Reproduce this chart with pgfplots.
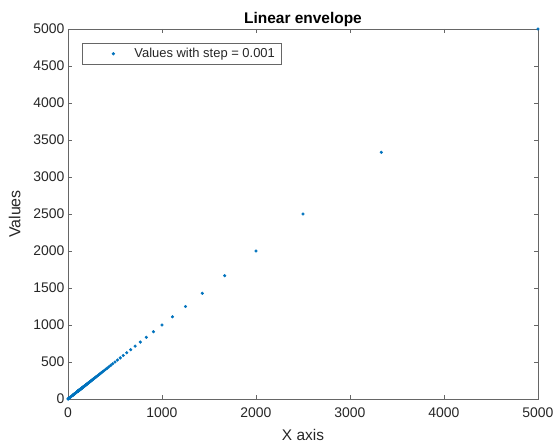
\documentclass[border=0pt]{standalone}
\usepackage{fontspec}
\setmainfont{Liberation Sans}
\usepackage{pgfplots}
\pgfplotsset{compat=1.18}
\definecolor{mblue}{rgb}{0,0.447,0.741}
\definecolor{axgray}{rgb}{0.40,0.40,0.40}
\definecolor{txt}{rgb}{0.15,0.15,0.15}
\begin{document}
\begin{tikzpicture}
\path[use as bounding box] (-68bp,-44bp) rectangle (487bp,399bp);
\begin{axis}[
  at={(0,0)}, anchor=origin,
  scale only axis,
  width=470bp, height=370bp,
  xmin=0, xmax=5000, ymin=0, ymax=5000,
  xtick={0,1000,2000,3000,4000,5000},
  ytick={0,500,1000,1500,2000,2500,3000,3500,4000,4500,5000},
  scaled ticks=false,
  /pgf/number format/assume math mode=true,
  /pgf/number format/set thousands separator={},
  tick align=inside,
  major tick length=4bp,
  axis line style={axgray, line width=0.6bp},
  every tick/.style={axgray, line width=0.6bp},
  tick label style={font=\fontsize{14}{15}\selectfont, text=txt},
  xticklabel style={yshift=-5bp},
  title={\bfseries Linear envelope},
  title style={font=\fontsize{15.5}{16}\selectfont, text=black, yshift=-7bp},
  xlabel={X axis},
  ylabel={Values},
  xlabel style={font=\fontsize{15.5}{16}\selectfont, text=txt, yshift=-5bp},
  ylabel style={font=\fontsize{16}{17}\selectfont, text=txt, yshift=6bp},
  legend style={at={(rel axis cs:0.03,0.962)}, anchor=north west,
    draw=axgray, line width=0.6bp, font=\fontsize{13}{14}\selectfont, text=txt,
    inner xsep=4bp, inner ysep=3bp},
  legend cell align=left,
  legend image code/.code={\path[draw=none,fill=none] (0bp,0bp) rectangle (46bp,0.1bp); \fill[mblue] (27bp,0bp) circle (1.3bp);},
]
\addplot[only marks, mark=*, mark size=1.4bp, color=mblue] table[x index=0, y index=0, header=false] {
5000
3333.3
2500
2000
1666.7
1428.6
1250
1111.1
1000
909.1
833.3
769.2
714.3
666.7
625
588.2
555.6
526.3
500
476.2
454.5
434.8
416.7
400
384.6
370.4
357.1
344.8
333.3
322.6
312.5
303.0
294.1
285.7
277.8
270.3
263.2
256.4
250
243.9
238.1
232.6
227.3
222.2
217.4
212.8
208.3
204.1
200
196.1
192.3
188.7
185.2
181.8
178.6
175.4
172.4
169.5
166.7
163.9
161.3
158.7
156.3
153.8
151.5
149.3
147.1
144.9
142.9
140.8
138.9
137.0
135.1
133.3
131.6
129.9
128.2
126.6
125
123.5
122.0
120.5
119.0
117.6
116.3
114.9
113.6
112.4
111.1
109.9
108.7
107.5
106.4
105.3
104.2
103.1
102.0
101.0
100
90.9
83.3
76.9
71.4
66.7
62.5
58.8
55.6
52.6
50
40
33.3
25
20
16.7
12.5
10
6.7
5
2
1
};
\addlegendentry{Values with step = 0.001}
\end{axis}
\end{tikzpicture}
\end{document}
